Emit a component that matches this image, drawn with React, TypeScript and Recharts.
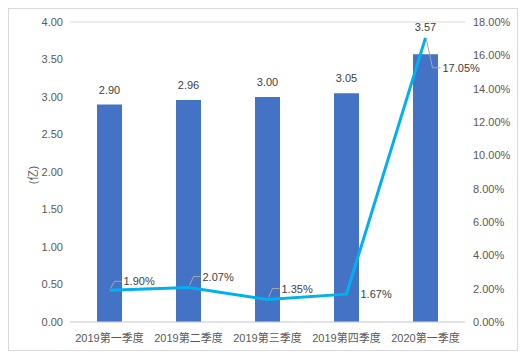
import { ComposedChart, Bar, Line, XAxis, YAxis, CartesianGrid, LabelList } from "recharts";

const quarters = ["2019第一季度", "2019第二季度", "2019第三季度", "2019第四季度", "2020第一季度"];
const amounts = [2.9, 2.96, 3.0, 3.05, 3.57];
const growth = [1.9, 2.07, 1.35, 1.67, 17.05];
const leftTicks = [0, 0.5, 1, 1.5, 2, 2.5, 3, 3.5, 4];
const rightTicks = [0, 2, 4, 6, 8, 10, 12, 14, 16, 18];

const data = quarters.map((q, i) => ({ q, amount: amounts[i], growth: growth[i] }));

const FONT = '"Liberation Sans", Arial, "Noto Sans CJK SC", sans-serif';
const TICK = { fontSize: 11, fill: "#595959", fontFamily: FONT };

const BarLabel = (props: any) => {
  const { x, y, width, value, index } = props;
  const lift = index === 4 ? 23 : 11;
  return (
    <text x={x + width / 2} y={y - lift} textAnchor="middle" fontSize={11} fill="#404040" fontFamily={FONT}>
      {Number(value).toFixed(2)}
    </text>
  );
};

const PctLabel = (props: any) => {
  const { x, y, value, index } = props;
  const text = `${Number(value).toFixed(2)}%`;
  if (index === 3) {
    return (
      <text x={x + 14} y={y + 4} fontSize={11} fill="#404040" fontFamily={FONT}>
        {text}
      </text>
    );
  }
  if (index === 4) {
    return (
      <g>
        <polyline points={`${x + 1},${y + 2} ${x + 7},${y + 30} ${x + 15},${y + 30}`} fill="none" stroke="#A6A6A6" strokeWidth={1} />
        <text x={x + 17} y={y + 34} fontSize={11} fill="#404040" fontFamily={FONT}>
          {text}
        </text>
      </g>
    );
  }
  const up = index === 0 ? 9 : 11;
  return (
    <g>
      <polyline points={`${x + 1},${y - 2} ${x + 5},${y - up} ${x + 12},${y - up}`} fill="none" stroke="#A6A6A6" strokeWidth={1} />
      <text x={x + 14} y={y - up + 4} fontSize={11} fill="#404040" fontFamily={FONT}>
        {text}
      </text>
    </g>
  );
};

const UnitLabel = () => {
  const cx = 24;
  const cy = 166;
  return (
    <text x={cx} y={cy} transform={`rotate(-90 ${cx} ${cy})`} textAnchor="middle" dominantBaseline="central" fontSize={11} fill="#595959" fontFamily={FONT}>
      (亿)
    </text>
  );
};

export default function App() {
  return (
    <div style={{ width: 510, height: 343, border: "1px solid #D9D9D9", boxSizing: "border-box", background: "#fff" }}>
      <ComposedChart width={508} height={341} data={data} margin={{ top: 13, right: 2, bottom: 6, left: 11 }}>
        <CartesianGrid vertical={false} stroke="#D9D9D9" />
        <XAxis dataKey="q" height={22} axisLine={{ stroke: "#D9D9D9" }} tickLine={false} tick={TICK} tickMargin={6} interval={0} />
        <YAxis
          yAxisId="l"
          width={50}
          domain={[0, 4]}
          ticks={leftTicks}
          tickFormatter={(v: number) => v.toFixed(2)}
          axisLine={false}
          tickLine={false}
          tickSize={0}
          tickMargin={7}
          tick={TICK}
          label={<UnitLabel />}
        />
        <YAxis
          yAxisId="r"
          orientation="right"
          width={50}
          domain={[0, 18]}
          ticks={rightTicks}
          tickFormatter={(v: number) => `${v.toFixed(2)}%`}
          axisLine={false}
          tickLine={false}
          tickSize={0}
          tickMargin={8}
          tick={TICK}
        />
        <Bar yAxisId="l" dataKey="amount" fill="#4472C4" barSize={25} isAnimationActive={false}>
          <LabelList dataKey="amount" content={<BarLabel />} />
        </Bar>
        <Line yAxisId="r" dataKey="growth" type="linear" stroke="#00B0F0" strokeWidth={3} dot={false} activeDot={false} isAnimationActive={false}>
          <LabelList dataKey="growth" content={<PctLabel />} />
        </Line>
      </ComposedChart>
    </div>
  );
}
